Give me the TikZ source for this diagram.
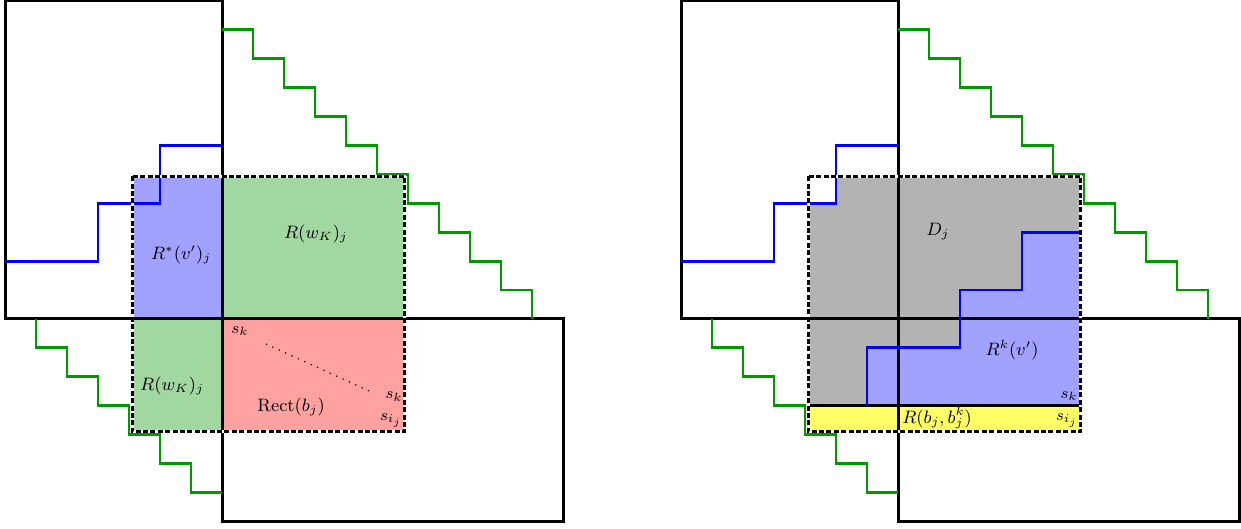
\documentclass[tikz,border=0pt]{standalone}
\definecolor{stairgreen}{RGB}{0,153,0}
\definecolor{fillgreen}{RGB}{161,215,161}
\definecolor{fillblue}{RGB}{161,161,255}
\definecolor{fillred}{RGB}{255,161,161}
\definecolor{fillgray}{RGB}{179,179,179}
\definecolor{fillyellow}{RGB}{255,255,102}
\tikzset{
  frame/.style={draw=black, line width=1.5pt},
  gstair/.style={draw=stairgreen, line width=1.4pt},
  bstair/.style={draw=blue, line width=1.4pt},
  dashunder/.style={draw=white, line width=1.5pt},
  dashbox/.style={draw=black, line width=1.5pt, dash pattern=on 2.5pt off 1.2pt},
  lbl/.style={font=\small, inner sep=0pt},
  dotline/.style={line width=0.6pt, dash pattern=on 0.6pt off 2.9pt},
  grid units/.style={x=15.5pt, y=-14.45pt}
}
\begin{document}
\begin{tikzpicture}[x=0.5pt,y=-0.5pt]
\useasboundingbox (0,0) rectangle (1241,529);

% ---------------- left panel ----------------
\begin{scope}[shift={(2.5pt,-0.5pt)}, grid units]
  \fill[fillblue]  (4.1,6.06) rectangle (7,11);
  \fill[fillgreen] (7,6.06) rectangle (12.9,11);
  \fill[fillgreen] (4.1,11) rectangle (7,14.9);
  \fill[fillred]   (7,11) rectangle (12.9,14.9);
  \draw[frame] (0,0) rectangle (7,11);
  \draw[frame] (7,11) rectangle (18,18);
  \draw[gstair] (7,1) -| (8,2) -| (9,3) -| (10,4) -| (11,5) -| (12,6) -| (13,7)
     -| (14,8) -| (15,9) -| (16,10) -| (17,11);
  \draw[gstair] (1,11) |- (2,12) |- (3,13) |- (4,14) |- (5,15) |- (6,16) |- (7,17);
  \draw[bstair] (0,9) -- (3,9) -- (3,7) -- (5,7) -- (5,5) -- (7,5);
  \draw[dashunder] (4.1,6.06) rectangle (12.9,14.9);
  \draw[dashbox] (4.1,6.06) rectangle (12.9,14.9);
  \node[lbl] (rstar) at (5.68,8.79) {$R^*(v')_j$};
  \node[lbl] (rwk1) at (10.03,8.06) {$R(w_K)_j$};
  \node[lbl] (rwk2) at (5.39,13.32) {$R(w_K)_j$};
  \node[lbl, font=\footnotesize] (sk1) at (7.58,11.42) {$s_k$};
  \coordinate (d1) at (8.42,11.87);
  \coordinate (d2) at (11.74,13.49);
  \draw[dotline] (d1) -- (d2);
  \node[lbl, font=\footnotesize] (sk2) at (12.55,13.7) {$s_k$};
  \node[lbl] (rect) at (9.23,14.05) {$\mathrm{Rect}(b_j)$};
  \node[lbl, font=\footnotesize] (sij1) at (12.45,14.5) {$s_{i_j}$};
\end{scope}

% ---------------- right panel ----------------
\begin{scope}[shift={(340.5pt,-0.5pt)}, grid units]
  \fill[fillgray] (4.1,7) -- (5,7) -- (5,6.06) -- (12.9,6.06) -- (12.9,14) -- (4.1,14) -- cycle;
  \fill[fillblue] (6,14) -- (6,12) -- (9,12) -- (9,10) -- (11,10) -- (11,8) -- (12.9,8) -- (12.9,14) -- cycle;
  \fill[fillyellow] (4.1,14) rectangle (12.9,14.9);
  \draw[frame] (0,0) rectangle (7,11);
  \draw[frame] (7,11) rectangle (18,18);
  \draw[frame] (4.1,14) -- (12.9,14);
  \draw[gstair] (7,1) -| (8,2) -| (9,3) -| (10,4) -| (11,5) -| (12,6) -| (13,7)
     -| (14,8) -| (15,9) -| (16,10) -| (17,11);
  \draw[gstair] (1,11) |- (2,12) |- (3,13) |- (4,14) |- (5,15) |- (6,16) |- (7,17);
  \draw[bstair] (0,9) -- (3,9) -- (3,7) -- (5,7) -- (5,5) -- (7,5);
  \draw[bstair] (6,14) -- (6,12) -- (9,12) -- (9,10) -- (11,10) -- (11,8) -- (12.9,8);
  \draw[dashunder] (4.1,6.06) rectangle (12.9,14.9);
  \draw[dashbox] (4.1,6.06) rectangle (12.9,14.9);
  \node[lbl] (dj) at (8.29,7.99) {$D_j$};
  \node[lbl] (rk) at (10.68,12.08) {$R^k(v')$};
  \node[lbl, font=\footnotesize] (sk3) at (12.52,13.67) {$s_k$};
  \node[lbl] (rbb) at (8.26,14.43) {$R(b_j,b_j^k)$};
  \node[lbl, font=\footnotesize] (sij2) at (12.45,14.5) {$s_{i_j}$};
\end{scope}
\end{tikzpicture}
\end{document}
